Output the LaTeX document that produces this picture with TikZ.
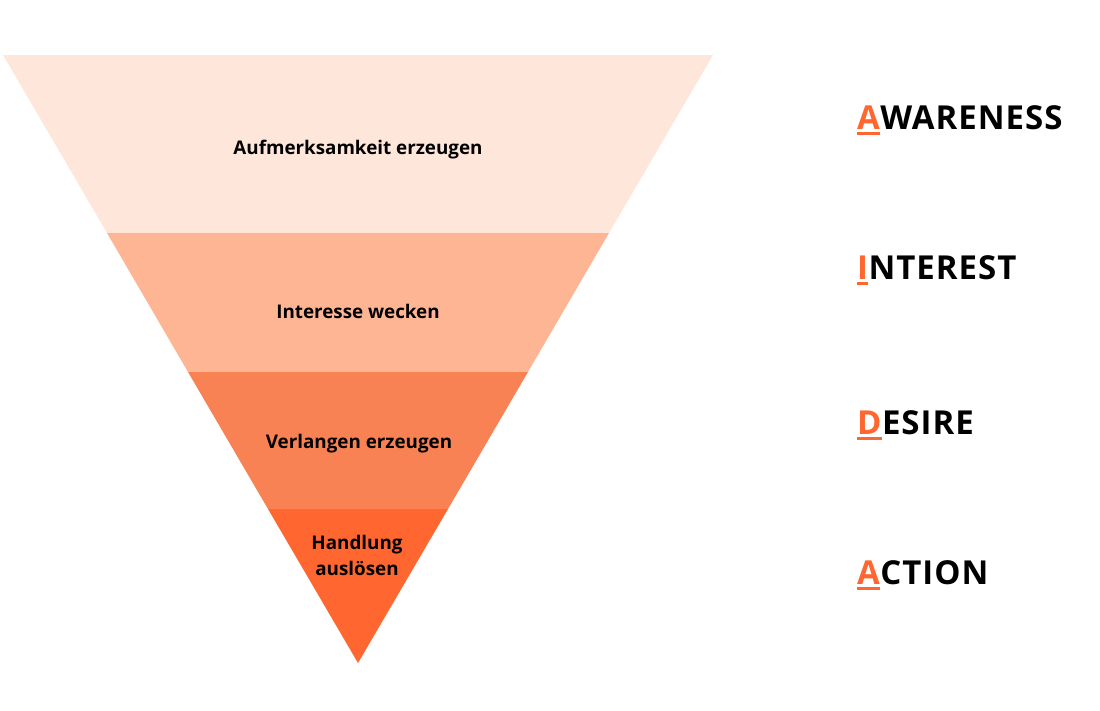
\documentclass[tikz,border=0pt]{standalone}
\usepackage{fontspec}
\setmainfont{Open Sans}
\newfontfamily\headfont[LetterSpace=3]{Open Sans}
\definecolor{peachA}{HTML}{FEE6DA}
\definecolor{peachB}{HTML}{FEB594}
\definecolor{peachC}{HTML}{F88253}
\definecolor{peachD}{HTML}{FF6630}
\tikzset{
  stage/.style={font=\bfseries\fontsize{18.8}{26}\selectfont, align=center, text=black},
  initial/.style={font=\headfont\bfseries\fontsize{33}{33}\selectfont, text=peachD, inner sep=0pt, anchor=base west},
  word/.style={font=\headfont\bfseries\fontsize{33}{33}\selectfont, text=black, inner sep=0pt, anchor=base west},
  bar/.style={draw=peachD, line width=2.5pt}
}
\begin{document}
\begin{tikzpicture}[x=1pt,y=-1pt]
  \useasboundingbox (0,0) rectangle (1100,710);
  % funnel bands
  \fill [peachA] (3,55) -- (713,55) -- (609,233) -- (107,233) -- cycle;
  \fill [peachB] (107,233) -- (609,233) -- (528,372) -- (188,372) -- cycle;
  \fill [peachC] (188,372) -- (528,372) -- (448,509) -- (268,509) -- cycle;
  \fill [peachD] (268,509) -- (448,509) -- (358,663) -- cycle;
  \node [stage] (aufmerksamkeit) at (358,150) {Aufmerksamkeit erzeugen};
  \node [stage] (interesse) at (358,311) {Interesse wecken};
  \node [stage] (verlangen) at (359,444) {Verlangen erzeugen};
  \node [stage] (handlung) at (357,555) {Handlung\\auslösen};
  % AIDA letters
  \foreach \name/\first/\rest/\y in {awareness/A/WARENESS/129, interest/I/NTEREST/279, desire/D/ESIRE/434, action/A/CTION/584}{
    \node [initial] (\name-i) at (857,\y) {\first};
    \node [word] (\name) at (\name-i.base east) {\rest};
    \draw [bar] ([yshift=-4.5pt]\name-i.base west) -- ([yshift=-4.5pt]\name-i.base east);
  }
\end{tikzpicture}
\end{document}
